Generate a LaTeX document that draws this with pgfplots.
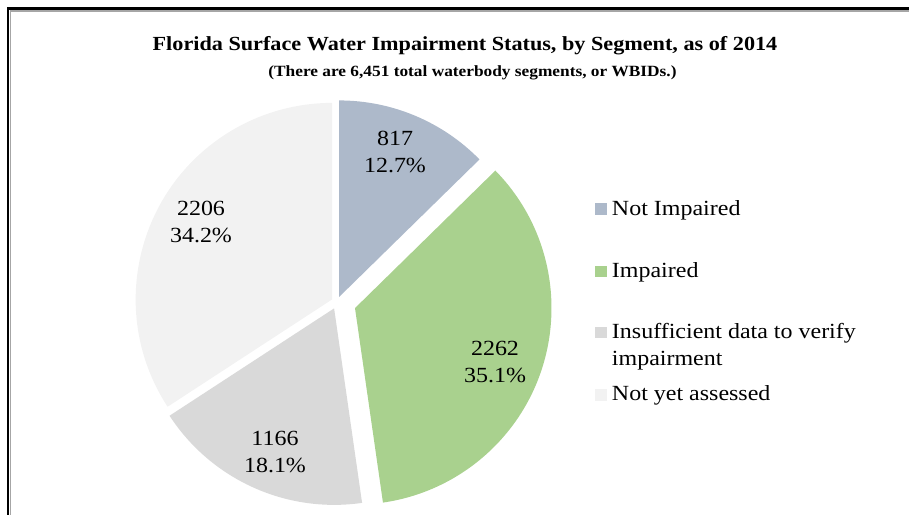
\documentclass[border=0pt]{standalone}
\usepackage{pgfplots}
\usepackage{pgfplotstable}
\pgfplotsset{compat=1.18}
\usepackage{fontspec}
\setmainfont{Liberation Serif}[FakeStretch=1.11]

\definecolor{notimp}{HTML}{ADB9CA}
\definecolor{imp}{HTML}{A9D18E}
\definecolor{insuf}{HTML}{D9D9D9}
\definecolor{notyet}{HTML}{F2F2F2}
\definecolor{frameshade}{HTML}{A6A6A6}

% Waterbody segments by status; explode = outward shift of the slice (px)
\pgfplotstableread{
status        count  explode
NotImpaired   817    5.5
Impaired      2262   19
Insufficient  1166   7
NotYet        2206   5.5
}\segments

% percentages set in the text font
\newcommand\pct[1]{\pgfmathprintnumber[fixed,fixed zerofill,precision=1,assume math mode=true]{#1}\%}

\begin{document}
\begin{tikzpicture}
% read counts and offsets
\pgfplotstablegetelem{0}{count}\of\segments \edef\nA{\pgfplotsretval}
\pgfplotstablegetelem{1}{count}\of\segments \edef\nB{\pgfplotsretval}
\pgfplotstablegetelem{2}{count}\of\segments \edef\nC{\pgfplotsretval}
\pgfplotstablegetelem{3}{count}\of\segments \edef\nD{\pgfplotsretval}
\pgfplotstablegetelem{0}{explode}\of\segments \edef\eA{\pgfplotsretval}
\pgfplotstablegetelem{1}{explode}\of\segments \edef\eB{\pgfplotsretval}
\pgfplotstablegetelem{2}{explode}\of\segments \edef\eC{\pgfplotsretval}
\pgfplotstablegetelem{3}{explode}\of\segments \edef\eD{\pgfplotsretval}
\pgfmathsetmacro\total{\nA+\nB+\nC+\nD}
% shares of the total
\pgfmathsetmacro\fA{\nA/\total}
\pgfmathsetmacro\fB{\nB/\total}
\pgfmathsetmacro\fC{\nC/\total}
\pgfmathsetmacro\fD{\nD/\total}
% slice boundaries, clockwise from 12 o'clock
\pgfmathsetmacro\aA{90}
\pgfmathsetmacro\aB{\aA-360*\fA}
\pgfmathsetmacro\aC{\aB-360*\fB}
\pgfmathsetmacro\aD{\aC-360*\fC}
\pgfmathsetmacro\aE{\aD-360*\fD}
\pgfmathsetmacro\mA{(\aA+\aB)/2}
\pgfmathsetmacro\mB{(\aB+\aC)/2}
\pgfmathsetmacro\mC{(\aC+\aD)/2}
\pgfmathsetmacro\mD{(\aD+\aE)/2}
\pgfmathsetmacro\pA{100*\fA}
\pgfmathsetmacro\pB{100*\fB}
\pgfmathsetmacro\pC{100*\fC}
\pgfmathsetmacro\pD{100*\fD}
\def\R{147.375pt}

\begin{axis}[
  at={(0,0)}, anchor=south west,
  width=681.75pt, height=385.5pt, scale only axis,
  xmin=0, xmax=909, ymin=0, ymax=514, y dir=reverse,
  hide axis, clip=false,
]
% chart frame
\draw[frameshade, line width=0.8pt] (axis cs:10,11) -- (axis cs:915,11);
\draw[frameshade, line width=0.8pt] (axis cs:10.5,11) -- (axis cs:10.5,520);
\draw[black, line width=1.7pt] (axis cs:8,8.5) -- (axis cs:915,8.5);
\draw[black, line width=1.7pt] (axis cs:8,7.4) -- (axis cs:8,520);

% pie slices
\fill[notimp] (axis cs:337,302) ++(\mA:{\eA*0.75pt}) -- ++(\aA:\R) arc[start angle=\aA, end angle=\aB, radius=\R] -- cycle;
\fill[imp]    (axis cs:337,302) ++(\mB:{\eB*0.75pt}) -- ++(\aB:\R) arc[start angle=\aB, end angle=\aC, radius=\R] -- cycle;
\fill[insuf]  (axis cs:337,302) ++(\mC:{\eC*0.75pt}) -- ++(\aC:\R) arc[start angle=\aC, end angle=\aD, radius=\R] -- cycle;
\fill[notyet] (axis cs:337,302) ++(\mD:{\eD*0.75pt}) -- ++(\aD:\R) arc[start angle=\aD, end angle=\aE, radius=\R] -- cycle;

% slice labels
\begin{scope}[every node/.style={anchor=base, inner sep=0pt, font=\fontsize{16.2}{19}\selectfont}]
\node at (axis cs:395,145) {\nA};
\node at (axis cs:395,172) {\pct{\pA}};
\node at (axis cs:495,355) {\nB};
\node at (axis cs:495,382.5) {\pct{\pB}};
\node at (axis cs:275,445) {\nC};
\node at (axis cs:275,472) {\pct{\pC}};
\node at (axis cs:201,215) {\nD};
\node at (axis cs:201,242) {\pct{\pD}};
\end{scope}

% legend
\fill[notimp] (axis cs:595,203.3) rectangle (axis cs:606.7,215);
\fill[imp]    (axis cs:595,265.7) rectangle (axis cs:606.7,277.3);
\fill[insuf]  (axis cs:595,326.7) rectangle (axis cs:606.7,338.3);
\fill[notyet] (axis cs:595,389.3) rectangle (axis cs:606.7,400.7);
\begin{scope}[every node/.style={anchor=base west, inner sep=0pt, font=\fontsize{16.2}{19}\selectfont}]
\node at (axis cs:611.7,215) {Not Impaired};
\node at (axis cs:611.7,277) {Impaired};
\node at (axis cs:611.7,338.3) {Insufficient data to verify};
\node at (axis cs:611.7,365) {impairment};
\node at (axis cs:611.7,400.5) {Not yet assessed};
\end{scope}

% titles
\node[anchor=base, inner sep=0pt, font=\bfseries\fontsize{15}{18}\selectfont] at (axis cs:465,50)
  {Florida Surface Water Impairment Status, by Segment, as of 2014};
\node[anchor=base, inner sep=0pt, font=\bfseries\fontsize{11.7}{14}\selectfont] at (axis cs:472.5,76)
  {(There are 6,451 total waterbody segments, or WBIDs.)};
\end{axis}
\pgfresetboundingbox
\path[use as bounding box] (0,0) rectangle (681.75pt,385.5pt);
\end{tikzpicture}
\end{document}
